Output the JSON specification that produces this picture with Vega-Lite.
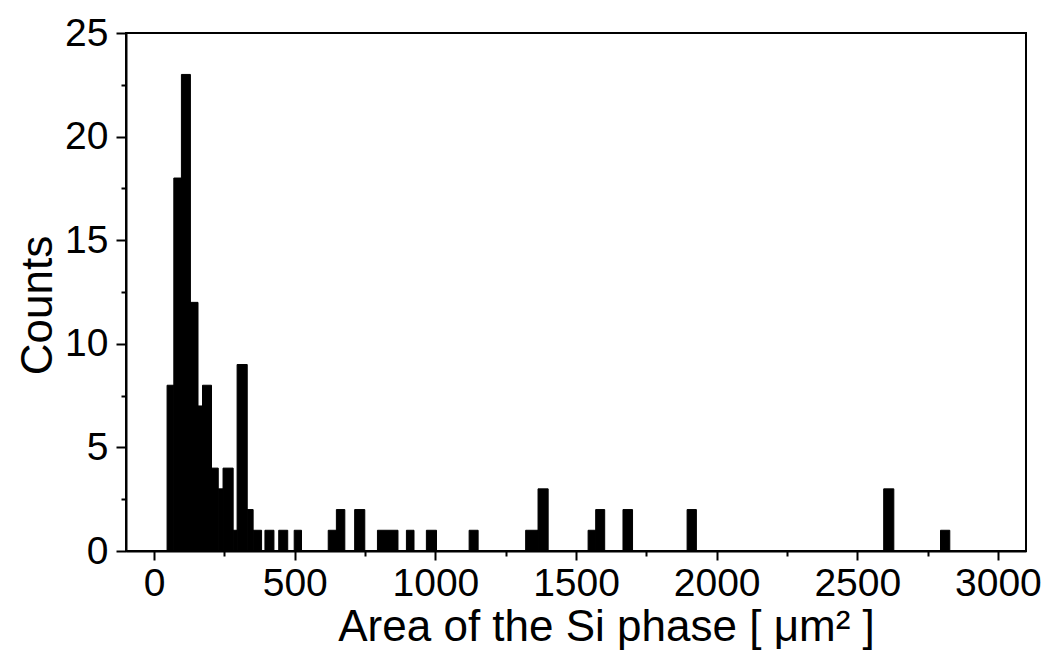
{
  "$schema": "https://vega.github.io/schema/vega-lite/v6.json",
  "width": 900,
  "height": 518,
  "autosize": {"type": "none"},
  "padding": {"left": 126, "top": 33, "right": 34, "bottom": 114},
  "background": "white",
  "config": {
    "view": {"stroke": "black", "strokeWidth": 2},
    "axis": {
      "grid": false,
      "domain": true,
      "domainColor": "black",
      "domainWidth": 2,
      "tickColor": "black",
      "tickWidth": 2,
      "labelColor": "black",
      "labelFont": "Liberation Sans",
      "labelFontSize": 39,
      "titleFont": "Liberation Sans",
      "titleFontSize": 44,
      "titleFontWeight": "normal",
      "titleColor": "black"
    }
  },
  "data": {
    "values": [
      {"start": 46, "end": 70, "count": 8},
      {"start": 70, "end": 97, "count": 18},
      {"start": 97, "end": 129, "count": 23},
      {"start": 129, "end": 156, "count": 12},
      {"start": 156, "end": 172, "count": 7},
      {"start": 172, "end": 204, "count": 8},
      {"start": 204, "end": 228, "count": 4},
      {"start": 228, "end": 245, "count": 3},
      {"start": 245, "end": 281, "count": 4},
      {"start": 281, "end": 295, "count": 1},
      {"start": 295, "end": 331, "count": 9},
      {"start": 331, "end": 352, "count": 2},
      {"start": 352, "end": 382, "count": 1},
      {"start": 394, "end": 426, "count": 1},
      {"start": 443, "end": 475, "count": 1},
      {"start": 498, "end": 524, "count": 1},
      {"start": 619, "end": 648, "count": 1},
      {"start": 648, "end": 678, "count": 2},
      {"start": 713, "end": 749, "count": 2},
      {"start": 794, "end": 867, "count": 1},
      {"start": 897, "end": 924, "count": 1},
      {"start": 968, "end": 1004, "count": 1},
      {"start": 1120, "end": 1152, "count": 1},
      {"start": 1321, "end": 1365, "count": 1},
      {"start": 1365, "end": 1401, "count": 3},
      {"start": 1543, "end": 1570, "count": 1},
      {"start": 1570, "end": 1602, "count": 2},
      {"start": 1667, "end": 1701, "count": 2},
      {"start": 1895, "end": 1928, "count": 2},
      {"start": 2594, "end": 2630, "count": 3},
      {"start": 2796, "end": 2829, "count": 1}
    ]
  },
  "layer": [
    {
      "mark": {"type": "bar", "color": "black", "stroke": "black", "strokeWidth": 1},
      "encoding": {
        "x": {
          "field": "start",
          "type": "quantitative",
          "scale": {"domain": [-100, 3100], "nice": false, "zero": false},
          "axis": {
            "orient": "bottom",
            "values": [0, 500, 1000, 1500, 2000, 2500, 3000],
            "format": "d",
            "tickSize": 9,
            "labelPadding": 4,
            "title": "Area of the Si phase [ μm² ]",
            "titlePadding": 2,
            "titleX": 480
          }
        },
        "x2": {"field": "end"},
        "y": {
          "field": "count",
          "type": "quantitative",
          "scale": {"domain": [0, 25], "nice": false},
          "axis": {
            "orient": "left",
            "values": [0, 5, 10, 15, 20, 25],
            "format": "d",
            "tickSize": 10,
            "labelPadding": 8,
            "title": "Counts",
            "titlePadding": 4,
            "titleY": 272
          }
        },
        "y2": {"datum": 0}
      }
    },
    {
      "mark": {"type": "bar", "opacity": 0},
      "encoding": {
        "x": {
          "field": "start",
          "type": "quantitative",
          "scale": {"domain": [-100, 3100], "nice": false, "zero": false},
          "axis": {
            "orient": "bottom",
            "values": [250, 750, 1250, 1750, 2250, 2750],
            "tickSize": 5,
            "labels": false,
            "domain": false,
            "title": null
          }
        },
        "x2": {"field": "end"},
        "y": {
          "field": "count",
          "type": "quantitative",
          "scale": {"domain": [0, 25], "nice": false},
          "axis": {
            "orient": "left",
            "values": [2.5, 7.5, 12.5, 17.5, 22.5],
            "tickSize": 5,
            "labels": false,
            "domain": false,
            "title": null
          }
        },
        "y2": {"datum": 0}
      }
    }
  ],
  "resolve": {"axis": {"x": "independent", "y": "independent"}}
}
